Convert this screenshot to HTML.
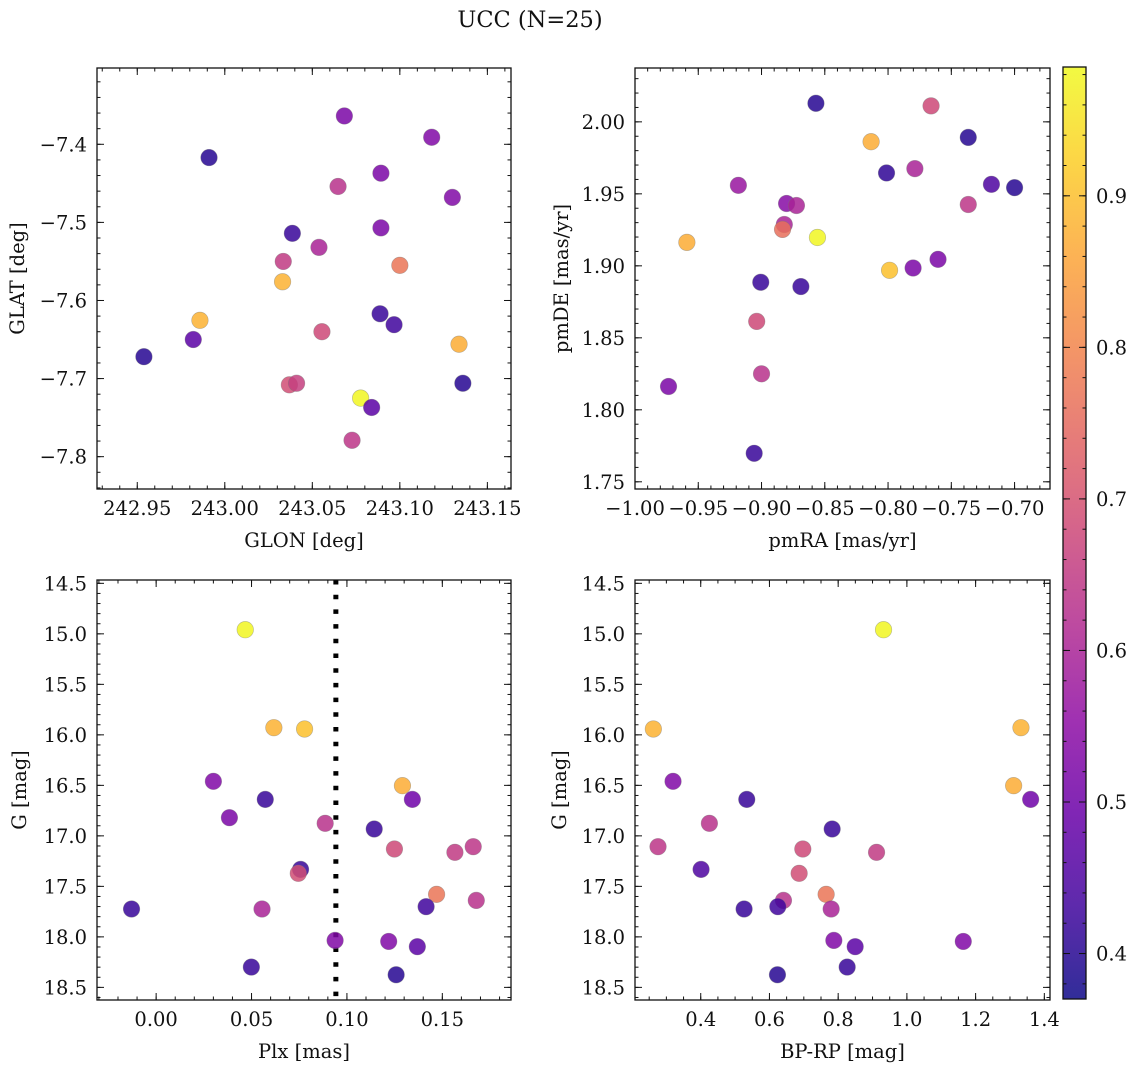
<!DOCTYPE html>
<html><head><meta charset="utf-8">
<style>
html,body{margin:0;padding:0;background:#fff;}
svg{display:block;font-family:"DejaVu Serif","Liberation Serif",serif;}
</style></head>
<body>
<svg id="fig" width="1136" height="1067" viewBox="0 0 1136 1067" xmlns="http://www.w3.org/2000/svg">
<text x="530" y="27" font-size="22.5" text-anchor="middle" fill="#111">UCC (N=25)</text>
</svg>
<script>
// ---- Panel 1: GLON vs GLAT ----
const p1Glon=[243.0683,243.1182,242.991,243.0892,243.0647,243.13,243.0892,243.0386,243.0538,243.0334,243.1,243.033,243.0887,243.0967,242.9858,243.0555,242.982,243.1338,242.9538,243.0369,243.041,243.136,243.0776,243.0839,243.0727];
const p1Glat=[-7.3637,-7.391,-7.417,-7.437,-7.454,-7.468,-7.507,-7.514,-7.532,-7.550,-7.555,-7.576,-7.617,-7.631,-7.6254,-7.640,-7.650,-7.656,-7.672,-7.708,-7.706,-7.706,-7.725,-7.737,-7.779];
const p1Prob=[0.52,0.53,0.40,0.52,0.63,0.53,0.52,0.42,0.60,0.65,0.77,0.88,0.42,0.43,0.88,0.68,0.47,0.87,0.40,0.69,0.66,0.40,0.98,0.47,0.64];
const p1XTicks=["242.95","243.00","243.05","243.10","243.15"];
const p1YTicks=["-7.8","-7.7","-7.6","-7.5","-7.4"];
// ---- Panel 2: pmRA vs pmDE ----
const p2Pmra=[-0.857,-0.766,-0.8134,-0.7366,-0.8012,-0.7788,-0.9183,-0.7183,-0.70,-0.7366,-0.8802,-0.8724,-0.882,-0.8834,-0.959,-0.8558,-0.7605,-0.7802,-0.7988,-0.9006,-0.8689,-0.9038,-0.90,-0.9735,-0.9058];
const p2Pmde=[2.0129,2.0111,1.9862,1.9892,1.9645,1.9675,1.9559,1.9566,1.9543,1.9426,1.9433,1.9419,1.9287,1.9253,1.9163,1.9197,1.9045,1.8985,1.8969,1.8886,1.8856,1.8614,1.8250,1.8162,1.7698];
const p2Prob=[0.40,0.68,0.87,0.40,0.41,0.60,0.57,0.45,0.40,0.64,0.54,0.60,0.60,0.76,0.87,0.98,0.52,0.52,0.90,0.42,0.42,0.68,0.63,0.52,0.42];
const p2XTicks=["-1.00","-0.95","-0.90","-0.85","-0.80","-0.75","-0.70"];
const p2YTicks=["1.75","1.80","1.85","1.90","1.95","2.00"];
// ---- Panel 3: Plx vs G ----
const p3Plx=[0.0467,0.0617,0.0778,0.0300,0.1291,0.0572,0.1343,0.0384,0.0886,0.1143,0.1249,0.1662,0.1566,0.0757,0.0745,0.147,0.1678,0.1415,-0.0129,0.0555,0.0938,0.1219,0.1369,0.0499,0.1258];
const p3G=[14.959,15.929,15.942,16.460,16.503,16.639,16.639,16.820,16.876,16.932,17.130,17.107,17.163,17.332,17.371,17.579,17.639,17.701,17.724,17.724,18.035,18.045,18.097,18.299,18.375];
const p3Prob=[0.98,0.88,0.90,0.53,0.87,0.42,0.50,0.52,0.63,0.42,0.68,0.64,0.65,0.42,0.69,0.77,0.63,0.43,0.42,0.60,0.53,0.53,0.47,0.42,0.40];
const p3PlxLine=[0.0942];
const p3XTicks=["0.00","0.05","0.10","0.15"];
const p3YTicks=["14.5","15.0","15.5","16.0","16.5","17.0","17.5","18.0","18.5"];
// ---- Panel 4: BP-RP vs G ----
const p4Bprp=[0.932,0.2621,1.332,0.3194,1.3107,0.534,1.3602,0.4252,0.7825,0.2757,0.6971,0.9117,0.401,0.6864,0.765,0.6408,0.6243,0.5262,0.7796,0.7874,1.1641,0.8495,0.8262,0.6233];
const p4G=[14.959,15.942,15.929,16.460,16.503,16.639,16.639,16.876,16.932,17.107,17.130,17.163,17.332,17.371,17.579,17.639,17.701,17.724,17.724,18.035,18.045,18.097,18.299,18.375];
const p4Prob=[0.98,0.88,0.88,0.53,0.87,0.42,0.50,0.63,0.42,0.64,0.68,0.65,0.45,0.69,0.77,0.63,0.43,0.42,0.60,0.53,0.53,0.47,0.42,0.40];
const p4XTicks=["0.4","0.6","0.8","1.0","1.2","1.4"];
const p4YTicks=p3YTicks;
// ---- Colorbar ----
const cbTicks=["0.4","0.5","0.6","0.7","0.8","0.9"];
const cbMin=0.370, cbMax=0.985;

const NS="http://www.w3.org/2000/svg";
const svg=document.getElementById('fig');
const TFS=19.5;
const LFS=19.5;
function mk(tag,attrs,parent){const e=document.createElementNS(NS,tag);for(const k in attrs)e.setAttribute(k,attrs[k]);(parent||svg).appendChild(e);return e;}
const plasma=[[13,8,135],[65,4,157],[106,0,168],[143,13,164],[177,42,144],[204,71,120],[225,100,98],[242,132,75],[252,166,54],[252,206,37],[240,249,33]];
function cmap(v){let t=(v-cbMin)/(cbMax-cbMin);t=Math.max(0,Math.min(1,t))*10;const i=Math.min(9,Math.floor(t)),f=t-i;const a=plasma[i],b=plasma[i+1];return 'rgb('+a.map((x,j)=>Math.round(x+(b[j]-x)*f)).join(',')+')';}
function fmt(s){return s.replace(/-/g,'\u2212');}
function tickText(parent,str,x,y,anchor){
  const t=mk('text',{x:x,y:y,'font-size':TFS,fill:'#111',stroke:'none','text-anchor':anchor},parent);
  t.textContent=str;return t;
}

function panel(o){
  const g=mk('g',{});
  
  
  const sx=v=>o.x0+(v-o.xd[0])/(o.xd[1]-o.xd[0])*(o.x1-o.x0);
  const sy=v=>o.y0+(v-o.yd[0])/(o.yd[1]-o.yd[0])*(o.y1-o.y0);
  const minorX=[],minorY=[];
  for(let v=Math.ceil(Math.min(...o.xd)/o.xmin-1e-6)*o.xmin;v<=Math.max(...o.xd)+1e-9;v+=o.xmin)minorX.push(v);
  for(let v=Math.ceil(Math.min(...o.yd)/o.ymin-1e-6)*o.ymin;v<=Math.max(...o.yd)+1e-9;v+=o.ymin)minorY.push(v);
  const tg=mk('g',{stroke:'#111','stroke-width':1},g);
  
  
  minorX.forEach(v=>{const x=sx(v);mk('line',{x1:x,x2:x,y1:o.y1,y2:o.y1-3.5},tg);mk('line',{x1:x,x2:x,y1:o.y0,y2:o.y0+3.5},tg);});
  minorY.forEach(v=>{const y=sy(v);mk('line',{x1:o.x0,x2:o.x0+3.5,y1:y,y2:y},tg);mk('line',{x1:o.x1,x2:o.x1-3.5,y1:y,y2:y},tg);});
  o.xt.forEach(s=>{const x=sx(parseFloat(s));mk('line',{x1:x,x2:x,y1:o.y1,y2:o.y1-7},tg);mk('line',{x1:x,x2:x,y1:o.y0,y2:o.y0+7},tg);
    const t=tickText(g,fmt(s),x,o.y1+26,'middle');
    });
  o.yt.forEach(s=>{const y=sy(parseFloat(s));mk('line',{x1:o.x0,x2:o.x0+7,y1:y,y2:y},tg);mk('line',{x1:o.x1,x2:o.x1-7,y1:y,y2:y},tg);
    const t=tickText(g,fmt(s),o.x0-10,y+7,'end');
    });
  if(o.vline){o.vline.forEach(v=>{const l=mk('line',{x1:sx(v),x2:sx(v),y1:o.y0,y2:o.y1,stroke:'#000','stroke-width':5,'stroke-dasharray':'4.5 10.2'},g);
    });}
  const pg=mk('g',{},g);
  
  
  o.xs.forEach((xv,i)=>{const c=mk('circle',{cx:sx(xv),cy:sy(o.ys[i]),r:8.3,fill:cmap(o.cs[i]),'fill-opacity':0.85,stroke:'#777','stroke-opacity':0.5,'stroke-width':0.6},pg);
    });
  const fr=mk('rect',{x:o.x0,y:o.y0,width:o.x1-o.x0,height:o.y1-o.y0,fill:'none',stroke:'#111','stroke-width':1.3},g);
  
  const xl=mk('text',{x:(o.x0+o.x1)/2,y:o.y1+58,'font-size':LFS,'text-anchor':'middle',fill:'#111'},g);xl.textContent=o.xlab;
  
  const yx=o.ylx,yy=(o.y0+o.y1)/2;
  const yl=mk('text',{x:yx,y:yy,'font-size':LFS,'text-anchor':'middle',fill:'#111',transform:'rotate(-90 '+yx+' '+yy+')'},g);yl.textContent=o.ylab;
  
}
panel({name:'glon-glat-panel',x0:97,x1:511,y0:68,y1:489,xd:[242.927,243.1635],yd:[-7.3023,-7.8414],xmin:0.01,ymin:0.02,xt:p1XTicks,yt:p1YTicks,xs:p1Glon,ys:p1Glat,cs:p1Prob,xlab:'GLON [deg]',ylab:'GLAT [deg]',ylx:24});
panel({name:'pm-panel',x0:635,x1:1050,y0:68,y1:489,xd:[-1.0,-0.672],yd:[2.0374,1.745],xmin:0.01,ymin:0.01,xt:p2XTicks,yt:p2YTicks,xs:p2Pmra,ys:p2Pmde,cs:p2Prob,xlab:'pmRA [mas/yr]',ylab:'pmDE [mas/yr]',ylx:568});
panel({name:'plx-g-panel',x0:97,x1:511,y0:580,y1:1000,xd:[-0.031,0.186],yd:[14.467,18.625],xmin:0.01,ymin:0.1,xt:p3XTicks,yt:p3YTicks,xs:p3Plx,ys:p3G,cs:p3Prob,xlab:'Plx [mas]',ylab:'G [mag]',ylx:26,vline:p3PlxLine});
panel({name:'cmd-panel',x0:635,x1:1050,y0:580,y1:1000,xd:[0.2087,1.4165],yd:[14.467,18.625],xmin:0.05,ymin:0.1,xt:p4XTicks,yt:p4YTicks,xs:p4Bprp,ys:p4G,cs:p4Prob,xlab:'BP-RP [mag]',ylab:'G [mag]',ylx:566});

// colorbar
(function(){
  const x0=1063,x1=1086,y0=67,y1=999;
  const defs=mk('defs',{});
  const lg=mk('linearGradient',{id:'cbg',x1:0,y1:1,x2:0,y2:0},defs);
  for(let k=0;k<=20;k++){const v=cbMin+(cbMax-cbMin)*k/20;mk('stop',{offset:(k/20),'stop-color':cmap(v),'stop-opacity':0.85},lg);}
  const g=mk('g',{});
  
  const sy=v=>y1-(v-cbMin)/(cbMax-cbMin)*(y1-y0);
  mk('rect',{x:x0,y:y0,width:x1-x0,height:y1-y0,fill:'url(#cbg)',stroke:'#111','stroke-width':1.3},g);
  for(let v=0.38;v<=cbMax+1e-9;v+=0.02){const y=sy(v);mk('line',{x1:x1,x2:x1-3.5,y1:y,y2:y,stroke:'#111','stroke-width':1},g);mk('line',{x1:x0,x2:x0+3.5,y1:y,y2:y,stroke:'#111','stroke-width':1},g);}
  cbTicks.forEach(s=>{const y=sy(parseFloat(s));mk('line',{x1:x1,x2:x1-7,y1:y,y2:y,stroke:'#111','stroke-width':1},g);mk('line',{x1:x0,x2:x0+7,y1:y,y2:y,stroke:'#111','stroke-width':1},g);
    const t=tickText(g,s,x1+10,y+7,'start');
    });
})();
</script>
</body></html>
